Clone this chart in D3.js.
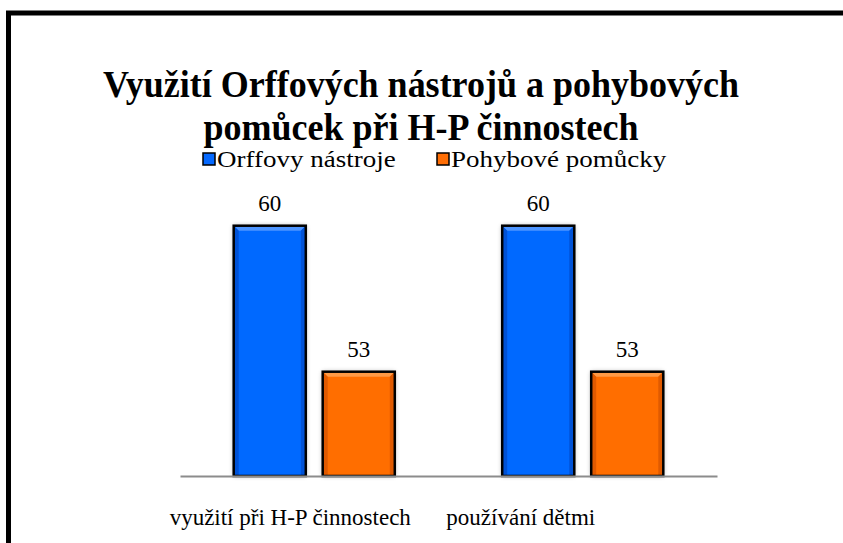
<!DOCTYPE html>
<html>
<head>
<meta charset="utf-8">
<script src="https://cdn.jsdelivr.net/npm/d3@7"></script>
<style>
  body { margin: 0; background: #fff; }
  svg { display: block; }
  svg text { font-family: 'Liberation Serif', 'Times New Roman', serif; }
</style>
</head>
<body>
<div id="chart"></div>
<script>
// data
const categories = ["využití při H-P činnostech", "používání dětmi"];
const seriesNames = ["Orffovy nástroje", "Pohybové pomůcky"];
const orffValues = [60, 60];
const pohybValues = [53, 53];
const titleLines = ["Využití Orffových nástrojů a pohybových", "pomůcek při H-P činnostech"];

const W = 843, H = 543;
const colors = { base: ["#0569ff", "#ff6e05"], light: ["#4d95ff", "#ff9a45"], dark: ["#0052d6", "#e05a00"] };

const svg = d3.select("#chart").append("svg")
  .attr("width", W).attr("height", H);

// text with its own height/width ratio (k > 1: taller, k < 1: wider)
function shapedText(parent, x, yPos, str, size, opts = {}) {
  const k = opts.k || 1;
  const g = parent.append("g").attr("transform", `translate(${x},${yPos}) scale(${1 / k},1)`);
  return g.append("text")
    .attr("font-size", size * k)
    .attr("font-weight", opts.bold ? "bold" : null)
    .attr("text-anchor", opts.anchor || "start")
    .attr("fill", "#000")
    .text(str);
}

// drop shadow for bars
const defs = svg.append("defs");
const sh = defs.append("filter").attr("id", "shadow")
  .attr("x", "-20%").attr("y", "-20%").attr("width", "140%").attr("height", "140%");
sh.append("feGaussianBlur").attr("in", "SourceAlpha").attr("stdDeviation", 2.5).attr("result", "b");
sh.append("feComponentTransfer").attr("in", "b").attr("result", "s")
  .append("feFuncA").attr("type", "linear").attr("slope", 0.35);
const m = sh.append("feMerge");
m.append("feMergeNode").attr("in", "s");
m.append("feMergeNode").attr("in", "SourceGraphic");

// outer frame (cut off at right and bottom)
svg.append("rect")
  .attr("x", 8.5).attr("y", 13)
  .attr("width", W + 50).attr("height", H + 50)
  .attr("fill", "none").attr("stroke", "#000").attr("stroke-width", 5);

// title
titleLines.forEach((t, i) => shapedText(svg, 421, 97 + i * 43, t, 36, { bold: true, anchor: "middle", k: 1.08 }));

// scales
const x0 = d3.scaleBand().domain(categories).range([180, 717])
  .paddingInner(0.4).paddingOuter(0.2);
const x1 = d3.scaleBand().domain(seriesNames).range([0, x0.bandwidth()])
  .paddingInner(0.19);
const y = d3.scaleLinear().domain([48, 62]).range([476, 184]);

const rows = categories.map((c, i) => ({
  cat: c,
  vals: [{ s: seriesNames[0], v: orffValues[i], k: 0 }, { s: seriesNames[1], v: pohybValues[i], k: 1 }]
}));

// legend
const legend = svg.append("g");
const legX = [203, 437];
seriesNames.forEach((s, i) => {
  const g = legend.append("g").attr("transform", `translate(${legX[i]},153)`);
  g.append("rect").attr("width", 12).attr("height", 12)
    .attr("fill", colors.base[i]).attr("stroke", "#000").attr("stroke-width", 1.5);
  shapedText(g, 14, 14, s, 27, { k: 0.85 });
});

// bars
const groups = svg.append("g").selectAll("g").data(rows).join("g")
  .attr("transform", d => `translate(${x0(d.cat)},0)`);

const bars = groups.selectAll("g.bar").data(d => d.vals).join("g").attr("class", "bar");

bars.append("rect")
  .attr("x", d => x1(d.s)).attr("y", d => y(d.v))
  .attr("width", x1.bandwidth()).attr("height", d => y(48) - y(d.v))
  .attr("fill", d => colors.base[d.k])
  .attr("filter", "url(#shadow)");

// bevel: lighter top, darker sides
const bev = 5;
bars.append("path")
  .attr("fill", d => colors.light[d.k])
  .attr("d", d => {
    const xl = x1(d.s), xr = xl + x1.bandwidth(), yt = y(d.v);
    return `M${xl},${yt}L${xr},${yt}L${xr - bev},${yt + bev}L${xl + bev},${yt + bev}Z`;
  });
bars.append("path")
  .attr("fill", d => colors.dark[d.k])
  .attr("d", d => {
    const xl = x1(d.s), yt = y(d.v), yb = y(48);
    return `M${xl},${yt}L${xl + bev},${yt + bev}L${xl + bev},${yb}L${xl},${yb}Z`;
  });
bars.append("path")
  .attr("fill", d => colors.dark[d.k])
  .attr("d", d => {
    const xr = x1(d.s) + x1.bandwidth(), yt = y(d.v), yb = y(48);
    return `M${xr},${yt}L${xr - bev},${yt + bev}L${xr - bev},${yb}L${xr},${yb}Z`;
  });
bars.append("rect")
  .attr("x", d => x1(d.s)).attr("y", d => y(d.v))
  .attr("width", x1.bandwidth()).attr("height", d => y(48) - y(d.v))
  .attr("fill", "none").attr("stroke", "#000").attr("stroke-width", 2.5);

// value labels
bars.each(function(d) {
  shapedText(d3.select(this), x1(d.s) + x1.bandwidth() / 2, y(d.v) - 15, d.v, 23, { anchor: "middle" });
});

// x axis
const xAxis = svg.append("g")
  .attr("transform", `translate(0,${y(48)})`)
  .call(d3.axisBottom(x0).tickSize(0).tickFormat("").tickSizeOuter(0));
xAxis.select(".domain").attr("stroke", "#8c8c8c").attr("stroke-width", 2);

// category labels (placed as in the source, not exactly centred)
const catShift = [-24, -62];
categories.forEach((c, i) => {
  shapedText(svg, x0(c) + x0.bandwidth() / 2 + catShift[i], 525, c, 23, { anchor: "middle" });
});
</script>
</body>
</html>
